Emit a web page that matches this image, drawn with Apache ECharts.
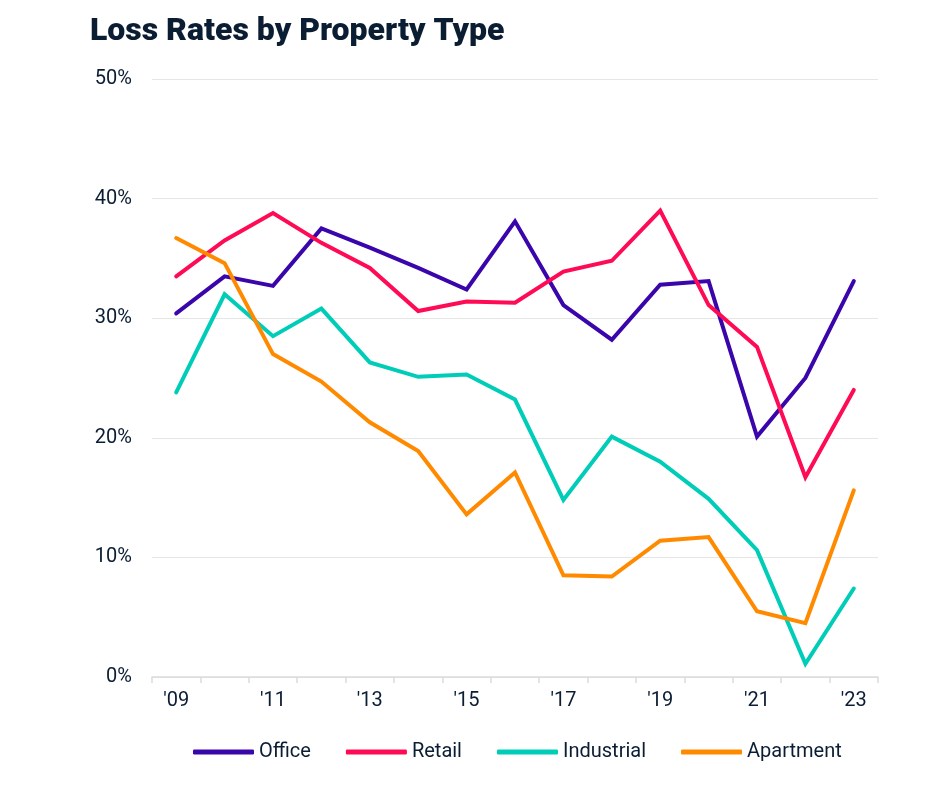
<!DOCTYPE html>
<html>
<head>
<meta charset="utf-8">
<script src="https://cdn.jsdelivr.net/npm/echarts@6/dist/echarts.min.js"></script>
<style>
html,body{margin:0;padding:0;background:#fff;}
#chart{width:941px;height:807px;}
</style>
</head>
<body>
<div id="chart"></div>
<script>
const years = ["'09","'10","'11","'12","'13","'14","'15","'16","'17","'18","'19","'20","'21","'22","'23"];
const office     = [30.4, 33.5, 32.7, 37.5, 35.9, 34.2, 32.4, 38.1, 31.1, 28.2, 32.8, 33.1, 20.1, 25.0, 33.1];
const retail     = [33.5, 36.5, 38.8, 36.3, 34.2, 30.6, 31.4, 31.3, 33.9, 34.8, 39.0, 31.1, 27.6, 16.7, 24.0];
const industrial = [23.8, 32.0, 28.5, 30.8, 26.3, 25.1, 25.3, 23.2, 14.8, 20.1, 18.0, 14.9, 10.6, 1.1, 7.4];
const apartment  = [36.7, 34.6, 27.0, 24.7, 21.3, 18.9, 13.6, 17.1, 8.5, 8.4, 11.4, 11.7, 5.5, 4.5, 15.6];
const seriesNames = ['Office','Retail','Industrial','Apartment'];
const colors = ['#3A06AC','#FF0A55','#00CDB8','#FF8A00'];

const textColor = '#0b1d33';
const font = 'Roboto';
const chart = echarts.init(document.getElementById('chart'), null, {renderer:'canvas'});
const dataSets = [office, retail, industrial, apartment];
chart.setOption({
  animation: false,
  color: colors,
  title: {
    text: 'Loss Rates by Property Type',
    left: 85, top: 11,
    textStyle: {fontFamily: font, fontWeight: 900, fontSize: 32, color: textColor}
  },
  legend: {
    data: seriesNames,
    left: 188, top: 737,
    icon: 'roundRect',
    itemWidth: 61, itemHeight: 5,
    itemGap: 35,
    textStyle: {fontFamily: font, fontSize: 20, color: textColor}
  },
  grid: {left: 152, right: 63, top: 79, bottom: 130, containLabel: false},
  xAxis: {
    type: 'category',
    data: years,
    boundaryGap: true,
    axisLine: {lineStyle: {color: '#dcdcdc', width: 1.5}},
    axisTick: {show: true, interval: 0, length: 6, lineStyle: {color: '#dcdcdc', width: 1.5}},
    axisLabel: {interval: 1, margin: 14, fontFamily: font, fontSize: 20, color: textColor}
  },
  yAxis: {
    type: 'value',
    min: 0, max: 50, interval: 10,
    axisLine: {show: false},
    axisTick: {show: false},
    splitLine: {lineStyle: {color: '#e6e6e6', width: 1}},
    axisLabel: {formatter: '{value}%', margin: 20, fontFamily: font, fontSize: 20, color: textColor}
  },
  series: seriesNames.map((n, i) => ({
    name: n,
    type: 'line',
    data: dataSets[i],
    symbol: 'none',
    lineStyle: {width: 4, cap: 'round', join: 'miter'},
    itemStyle: {color: colors[i]}
  }))
});
</script>
</body>
</html>
